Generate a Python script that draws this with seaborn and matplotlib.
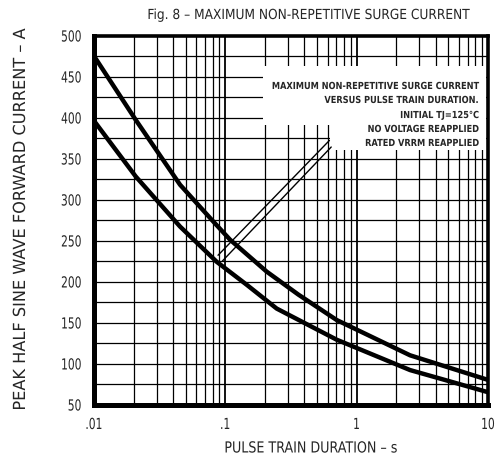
import numpy as np
import pandas as pd
import matplotlib
matplotlib.use("Agg")
import matplotlib.pyplot as plt
from matplotlib.patches import Polygon
from matplotlib.patheffects import AbstractPathEffect
from matplotlib.transforms import Affine2D
import seaborn as sns

# ---- data ----
upper_t = [0.01, 0.0208, 0.0452, 0.0811, 0.1086, 0.2066, 0.36, 0.705, 2.55, 10]
upper_i = [475, 397, 318, 273, 251, 212, 184, 153, 110, 80]
lower_t = [0.01, 0.0208, 0.0452, 0.086, 0.1455, 0.246, 0.705, 2.55, 10]
lower_i = [396, 328, 267, 224, 196, 167, 129, 92, 65]
pointer_a_t = [0.088, 0.62]
pointer_a_i = [232, 372]
pointer_b_t = [0.095, 0.64]
pointer_b_i = [225, 364]
x_ticks = [0.01, 0.1, 1, 10]
x_tick_labels = [".01", ".1", "1", "10"]
y_ticks = [50, 100, 150, 200, 250, 300, 350, 400, 450, 500]
note_lines = ["MAXIMUM NON-REPETITIVE SURGE CURRENT",
              "VERSUS PULSE TRAIN DURATION.",
              "INITIAL TJ=125°C",
              "NO VOLTAGE REAPPLIED",
              "RATED VRRM REAPPLIED"]
title = "Fig. 8 \u2013 MAXIMUM NON-REPETITIVE SURGE CURRENT"
xlabel = "PULSE TRAIN DURATION \u2013 s"
ylabel = "PEAK HALF SINE WAVE FORWARD CURRENT \u2013 A"


class Squeeze(AbstractPathEffect):
    """Draw text horizontally condensed (keeps alignment)."""
    def __init__(self, sx, frac):
        super().__init__()
        self.sx = sx
        self.frac = frac

    def draw_path(self, renderer, gc, tpath, affine, rgbFace=None):
        ext = tpath.get_extents()
        w = ext.x1
        shift = (1 - self.sx) * w * self.frac
        new = Affine2D().scale(self.sx, 1).translate(shift, 0) + affine
        renderer.draw_path(gc, tpath, new, rgbFace)


sns.set_style("white")
plt.rcParams["font.family"] = ["DejaVu Sans"]

W, H = 501, 466
fig = plt.figure(figsize=(W / 100, H / 100), dpi=100)
L, R, T, B = 94, 488, 35.5, 404.5
ax = fig.add_axes([L / W, 1 - B / H, (R - L) / W, (B - T) / H])

ax.set_xscale("log")
ax.set_xlim(0.01, 10)
ax.set_ylim(50, 500)

# grid
for dec in [0.01, 0.1, 1]:
    for m in range(2, 10):
        ax.axvline(dec * m, color="black", lw=0.9, zorder=1)
for d in [0.1, 1]:
    ax.axvline(d, color="black", lw=1.3, zorder=1)
for v in np.arange(75, 500, 25):
    ax.axhline(v, color="black", lw=0.9, zorder=1)

# blank region behind the note
poly = Polygon([(0.429, 0.918), (0.995, 0.918), (0.995, 0.69), (0.599, 0.69),
                (0.599, 0.757), (0.429, 0.757)], closed=True,
               transform=ax.transAxes, facecolor="white", edgecolor="none", zorder=2)
ax.add_patch(poly)

df_u = pd.DataFrame({"t": upper_t, "i": upper_i})
df_l = pd.DataFrame({"t": lower_t, "i": lower_i})
sns.lineplot(data=df_u, x="t", y="i", ax=ax, color="black", lw=3.2, zorder=4,
             estimator=None, sort=False)
sns.lineplot(data=df_l, x="t", y="i", ax=ax, color="black", lw=3.2, zorder=4,
             estimator=None, sort=False)
ax.plot(pointer_a_t, pointer_a_i, color="black", lw=1.0, zorder=3)
ax.plot(pointer_b_t, pointer_b_i, color="black", lw=1.0, zorder=3)

ys = [86, 100, 115, 129, 143]
for txt, py in zip(note_lines, ys):
    t = ax.text((479 - L) / (R - L), (B - py) / (B - T), txt, transform=ax.transAxes,
                ha="right", va="center", fontsize=7, fontweight="bold", zorder=5)
    t.set_path_effects([Squeeze(0.845, 1.0)])

ax.set_xticks(x_ticks)
ax.set_xticklabels(x_tick_labels, fontsize=11)
ax.minorticks_off()
ax.set_xticks([], minor=True)
ax.set_yticks(y_ticks)
ax.set_yticklabels([str(v) for v in y_ticks], fontsize=11)
ax.tick_params(axis="both", length=0)
ax.tick_params(axis="y", pad=9)
ax.tick_params(axis="x", pad=9)
for lab in ax.get_yticklabels():
    lab.set_path_effects([Squeeze(0.7, 1.0)])
for lab in ax.get_xticklabels():
    lab.set_path_effects([Squeeze(0.7, 0.5)])
ax.set_xlabel("")
ax.set_ylabel("")

for side, w in [("left", 3.6), ("bottom", 3.6), ("top", 2.6), ("right", 2.6)]:
    ax.spines[side].set_visible(True)
    ax.spines[side].set_linewidth(w)
    ax.spines[side].set_color("black")
    ax.spines[side].set_zorder(6)

tt = fig.text(308 / W, 1 - 15 / H, title, ha="center", va="center", fontsize=10)
tt.set_path_effects([Squeeze(0.88, 0.5)])
xl = fig.text(311 / W, 1 - 448 / H, xlabel, ha="center", va="center", fontsize=11)
xl.set_path_effects([Squeeze(0.83, 0.5)])
yl = fig.text(20 / W, 1 - 220 / H, ylabel, ha="center", va="center",
              rotation=90, fontsize=12)
yl.set_path_effects([Squeeze(0.97, 0.5)])

fig.savefig("out.png", dpi=100)
